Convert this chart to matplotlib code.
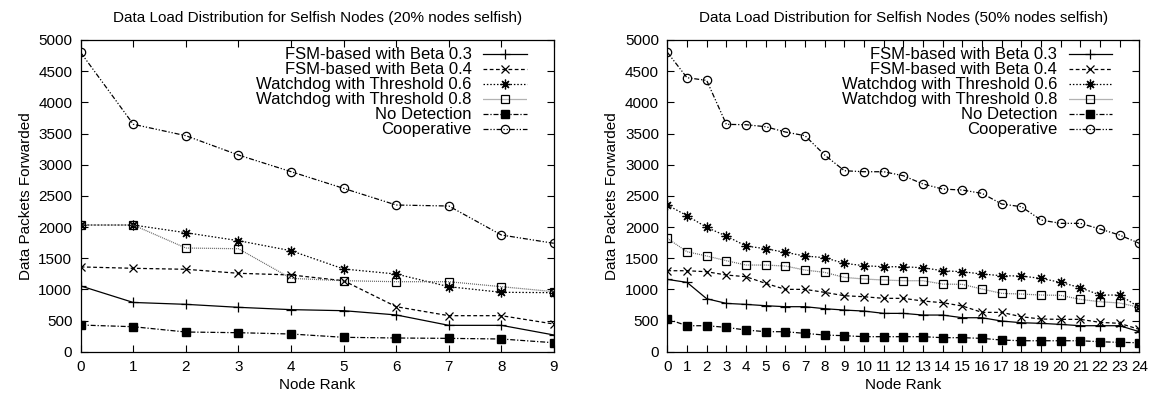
import numpy as np
import matplotlib.pyplot as plt

plt.rcParams['font.family'] = ['Liberation Sans', 'DejaVu Sans']
plt.rcParams['font.size'] = 11

# 20% selfish nodes, ranks 0..9
rank20 = np.arange(10)
fsm03_20 = [1055, 790, 760, 712, 675, 658, 590, 423, 423, 268]
fsm04_20 = [1360, 1338, 1322, 1258, 1231, 1139, 722, 578, 578, 444]
wd06_20 = [2032, 2032, 1909, 1781, 1620, 1327, 1246, 1043, 953, 947]
wd08_20 = [2032, 2032, 1663, 1652, 1177, 1139, 1123, 1123, 1043, 963]
nodet_20 = [428, 401, 316, 305, 284, 231, 220, 214, 204, 144]
coop_20 = [4800, 3648, 3465, 3155, 2888, 2620, 2353, 2337, 1872, 1739]

# 50% selfish nodes, ranks 0..24
rank50 = np.arange(25)
fsm03_50 = [1160, 1112, 850, 775, 759, 738, 722, 722, 690, 668, 652, 615, 615,
            588, 588, 545, 545, 492, 465, 455, 438, 417, 417, 417, 321]
fsm04_50 = [1299, 1299, 1283, 1230, 1203, 1096, 1000, 1000, 952, 898, 882, 856, 856,
            813, 786, 733, 631, 631, 561, 524, 519, 519, 471, 455, 358]
wd06_50 = [2353, 2182, 1994, 1855, 1695, 1652, 1593, 1535, 1508, 1417, 1380, 1363, 1363,
           1347, 1299, 1283, 1246, 1219, 1214, 1176, 1112, 1027, 909, 909, 711]
wd08_50 = [1818, 1604, 1535, 1460, 1390, 1390, 1374, 1310, 1273, 1192, 1166, 1150, 1139,
           1139, 1085, 1080, 1005, 936, 925, 909, 904, 839, 802, 781, 711]
nodet_50 = [524, 417, 417, 390, 348, 321, 321, 294, 267, 257, 241, 241, 241,
            241, 225, 225, 214, 187, 176, 176, 176, 176, 160, 150, 144]
coop_50 = [4802, 4395, 4352, 3647, 3641, 3609, 3524, 3465, 3155, 2903, 2887, 2887, 2823,
           2690, 2609, 2593, 2540, 2369, 2326, 2112, 2059, 2059, 1968, 1871, 1738]

labels = ["FSM-based with Beta 0.3", "FSM-based with Beta 0.4",
          "Watchdog with Threshold 0.6", "Watchdog with Threshold 0.8",
          "No Detection", "Cooperative"]

styles = [
    dict(color='black', ls='-', marker='+', ms=6.5, mew=0.9),
    dict(color='black', ls=(0, (3, 2)), marker='x', ms=5.5, mew=0.9),
    dict(color='black', ls=(0, (1.2, 1.5)), marker=(8, 2, 0), ms=7, mew=0.9),
    dict(color='#666666', ls=(0, (0.8, 0.8)), marker='s', ms=5.4, mfc='none', mec='black', mew=0.9),
    dict(color='black', ls=(0, (4, 1.5, 1, 1.5)), marker='s', ms=5.4, mfc='black', mec='black'),
    dict(color='black', ls=(0, (4, 1.5, 1, 1.5, 1, 1.5)), marker='o', ms=6, mfc='none', mec='black', mew=0.9),
]

fig = plt.figure(figsize=(11.51, 3.98), dpi=100)
ax1 = fig.add_axes([0.0701, 0.1163, 0.4112, 0.7832])
ax2 = fig.add_axes([0.5798, 0.1163, 0.4101, 0.7832])

panels = [
    (ax1, rank20, [fsm03_20, fsm04_20, wd06_20, wd08_20, nodet_20, coop_20],
     "Data Load Distribution for Selfish Nodes (20% nodes selfish)"),
    (ax2, rank50, [fsm03_50, fsm04_50, wd06_50, wd08_50, nodet_50, coop_50],
     "Data Load Distribution for Selfish Nodes (50% nodes selfish)"),
]

for ax, x, series, title in panels:
    for y, lab, st in zip(series, labels, styles):
        ax.plot(x, y, lw=0.9, label=lab, **st)
    ax.set_xlim(x[0], x[-1])
    ax.set_ylim(0, 5000)
    ax.set_xticks(x)
    ax.set_yticks(np.arange(0, 5001, 500))
    ax.tick_params(direction='in', top=True, right=True, length=5, width=0.8, labelsize=11, pad=6)
    for sp in ax.spines.values():
        sp.set_linewidth(0.9)
    ax.set_title(title, fontsize=11, pad=13)
    ax.set_xlabel("Node Rank", fontsize=11, labelpad=3)
    ax.set_ylabel("Data Packets Forwarded", fontsize=11)
    ax.legend(loc='upper right', bbox_to_anchor=(0.96, 1.003), frameon=False,
              markerfirst=False, borderpad=0, labelspacing=0.0,
              handlelength=2.6, handletextpad=0.7, fontsize=12)

fig.savefig("out.png", dpi=100)
